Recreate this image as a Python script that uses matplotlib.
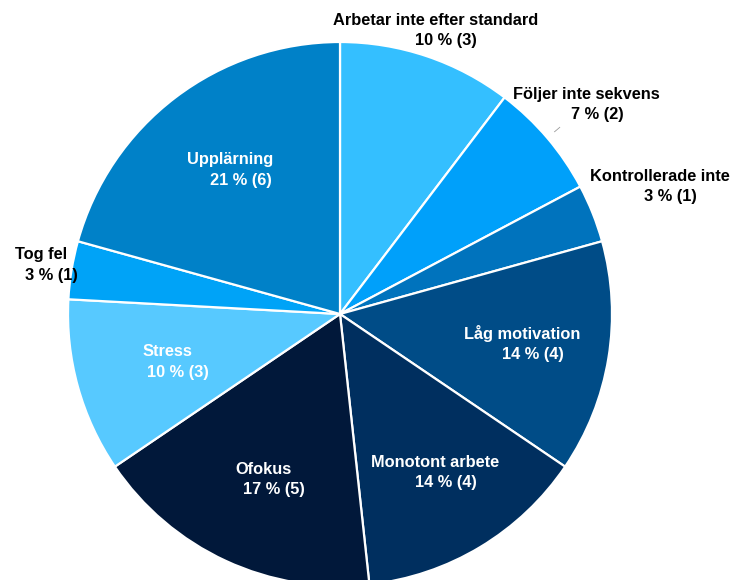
import numpy as np
import matplotlib.pyplot as plt

labels = ["Arbetar inte efter standard", "Följer inte sekvens", "Kontrollerade inte",
          "Låg motivation", "Monotont arbete", "Ofokus", "Stress", "Tog fel", "Upplärning"]
counts = [3, 2, 1, 4, 4, 5, 3, 1, 6]
colors = ["#34BFFF", "#00A0FA", "#0073BD", "#004C87", "#002F5F",
          "#01183A", "#57C9FF", "#00A3F7", "#0081C8"]

# label placement: radius (pie radius = 1) and colour
label_r = [1.10, 1.19, 1.265, 0.68, 0.68, 0.67, 0.66, 1.115, 0.665]
label_col = ["black", "black", "black", "white", "white", "white", "white", "black", "white"]

plt.rcParams['font.family'] = ['Liberation Sans', 'DejaVu Sans']

fig = plt.figure(figsize=(7.32, 5.8), dpi=100)
ax = fig.add_axes([0, 0, 1, 1])

wedges, _ = ax.pie(counts, colors=colors, startangle=90, counterclock=False,
                   radius=1.0, wedgeprops=dict(edgecolor="white", linewidth=1.6))

total = sum(counts)
for w, lab, n, r, c in zip(wedges, labels, counts, label_r, label_col):
    mid = np.deg2rad((w.theta1 + w.theta2) / 2)
    x, y = r * np.cos(mid), r * np.sin(mid)
    pct = round(100 * n / total)
    ax.text(x, y + 0.038, lab, ha="center", va="center", color=c,
            fontsize=11.8, fontweight="bold")
    ax.text(x + 0.04, y - 0.038, f"{pct} % ({n})", ha="center", va="center", color=c,
            fontsize=11.8, fontweight="bold")

# faint leader fragment near "Följer inte sekvens"
mid = np.deg2rad((wedges[1].theta1 + wedges[1].theta2) / 2)
ax.plot([1.035 * np.cos(mid), 1.06 * np.cos(mid)],
        [1.035 * np.sin(mid), 1.06 * np.sin(mid)], color="#999999", lw=0.6)

ax.set_xlim(-340 / 272, (732 - 340) / 272)
ax.set_ylim(-(580 - 314) / 272, 314 / 272)
ax.set_aspect("auto")
ax.axis("off")

fig.savefig("out.png", dpi=100)
